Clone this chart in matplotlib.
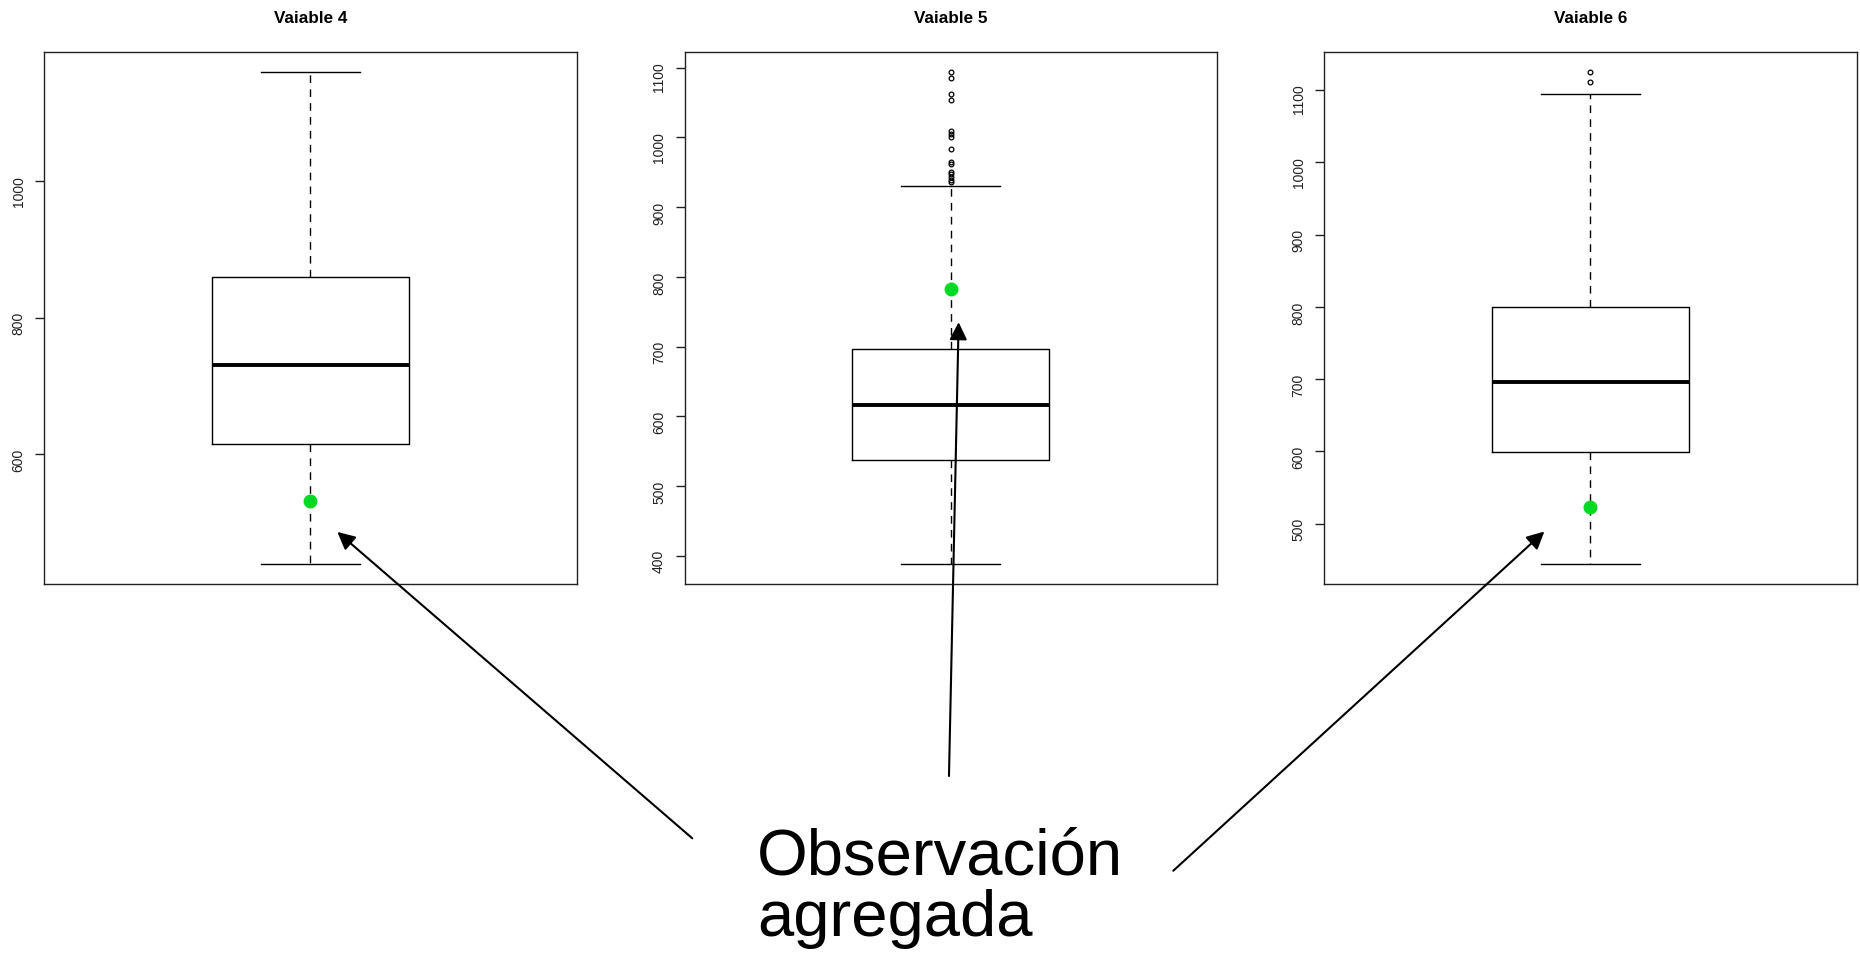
import matplotlib
matplotlib.use("Agg")
import matplotlib.pyplot as plt

plt.rcParams["font.family"] = ["Liberation Sans", "DejaVu Sans"]

titles = ["Vaiable 4", "Vaiable 5", "Vaiable 6"]

# five-number summaries of each variable
whisker_low = [439, 388, 444]
q1 = [615, 537, 599]
median = [730, 616, 696]
q3 = [859, 697, 800]
whisker_high = [1160, 931, 1094]

outliers = [
    [],
    [1094, 1086, 1063, 1054, 1010, 1005, 1000, 984, 965, 962, 951, 947, 943, 939, 936],
    [1111, 1125],
]

# the added observation, shown in green
added_obs = [532, 782, 523]

yticks = [
    [600, 800, 1000],
    [400, 500, 600, 700, 800, 900, 1000, 1100],
    [500, 600, 700, 800, 900, 1000, 1100],
]

label_text = "Observación\nagregada"

# arrow heads (data coords of each panel) and tails (figure fraction)
arrow_tips = [(1.055, 486), (1.016, 735), (0.907, 489)]
arrow_tails = [(0.3722, 0.1231), (0.5102, 0.1883), (0.6308, 0.0892)]

W, H = 1860, 956
fig = plt.figure(figsize=(W / 100, H / 100), dpi=100)

lefts = [44, 684.5, 1324]
ax_w, ax_h = 532.5, 531.4
ax_top = 52.3

for i in range(3):
    ax = fig.add_axes([lefts[i] / W, (H - ax_top - ax_h) / H, ax_w / W, ax_h / H])
    stats = [dict(med=median[i], q1=q1[i], q3=q3[i],
                  whislo=whisker_low[i], whishi=whisker_high[i],
                  fliers=outliers[i])]
    ax.bxp(stats, positions=[1], widths=0.4, capwidths=0.2, showfliers=True,
           boxprops=dict(color="black", lw=1.0),
           medianprops=dict(color="black", lw=2.8, solid_capstyle="butt"),
           whiskerprops=dict(color="black", lw=1.0, linestyle=(0, (5.5, 4.5))),
           capprops=dict(color="black", lw=1.0),
           flierprops=dict(marker="o", markersize=3.4, markerfacecolor="none",
                           markeredgecolor="black", markeredgewidth=0.9))
    ax.plot([1], [added_obs[i]], "o", color="#00D924", markersize=9, zorder=5)

    # R-style axis range: data range padded by 4 %
    vals = [whisker_low[i], whisker_high[i], added_obs[i]] + outliers[i]
    lo, hi = min(vals), max(vals)
    pad = 0.04 * (hi - lo)
    ax.set_ylim(lo - pad, hi + pad)
    ax.set_xlim(0.46, 1.54)

    ax.set_xticks([])
    ax.set_yticks(yticks[i])
    ax.tick_params(axis="y", length=6.3, width=1.0, pad=7, labelsize=10,
                   labelrotation=90, colors="#222222")
    for s in ax.spines.values():
        s.set_linewidth(1.0)
        s.set_color("#222222")
    ax.set_title(titles[i], fontsize=12.3, fontweight="bold", pad=21)

    ax.annotate("", xy=arrow_tips[i], xycoords="data",
                xytext=arrow_tails[i], textcoords="figure fraction",
                arrowprops=dict(arrowstyle="-|>,head_length=1.0,head_width=0.5",
                                mutation_scale=10.6, lw=1.5, color="black",
                                shrinkA=0, shrinkB=0),
                annotation_clip=False)

# baseline of the last line sits at 936 px from the top
fig.text(757 / W, 1 - 936 / H, label_text, fontsize=47, va="baseline",
         linespacing=1.03)

fig.savefig("out.png", dpi=100)
